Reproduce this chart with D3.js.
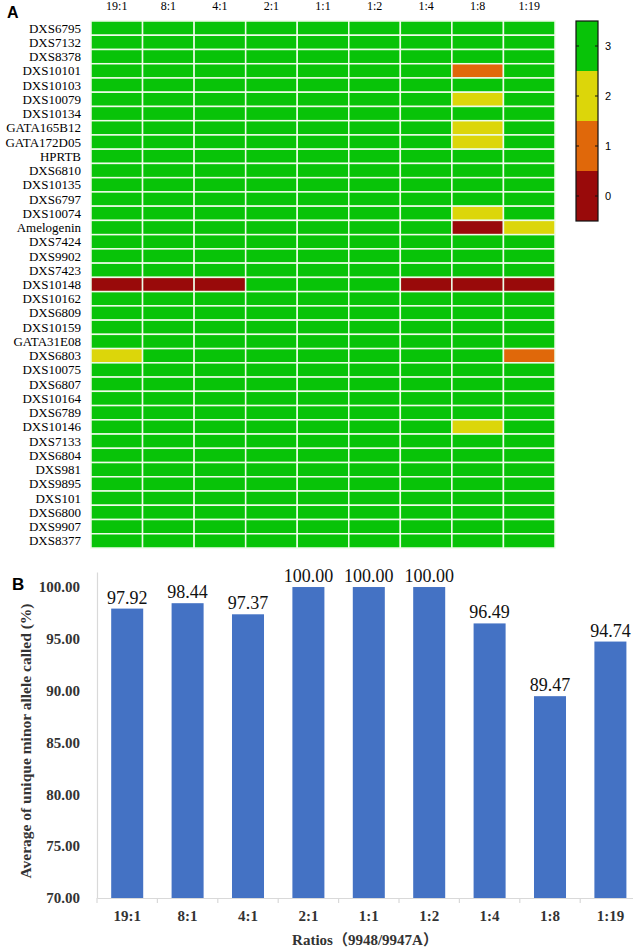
<!DOCTYPE html>
<html>
<head>
<meta charset="utf-8">
<script src="https://cdn.jsdelivr.net/npm/d3@7"></script>
<style>
  html, body { margin: 0; padding: 0; background: #fff; }
  svg { display: block; }
</style>
</head>
<body>
<div id="chart"></div>
<script>
// Panel A: allele call heatmap, panel B: average minor allele called per ratio
const ratios = ["19:1", "8:1", "4:1", "2:1", "1:1", "1:2", "1:4", "1:8", "1:19"]

const loci = [
  "DXS6795", "DXS7132", "DXS8378", "DXS10101", "DXS10103", "DXS10079", "DXS10134",
  "GATA165B12", "GATA172D05", "HPRTB", "DXS6810", "DXS10135", "DXS6797", "DXS10074",
  "Amelogenin", "DXS7424", "DXS9902", "DXS7423", "DXS10148", "DXS10162", "DXS6809",
  "DXS10159", "GATA31E08", "DXS6803", "DXS10075", "DXS6807", "DXS10164", "DXS6789",
  "DXS10146", "DXS7133", "DXS6804", "DXS981", "DXS9895", "DXS101", "DXS6800",
  "DXS9907", "DXS8377"
]

// one row per locus, one value per ratio (0..3)
const calls = [
  [3, 3, 3, 3, 3, 3, 3, 3, 3],
  [3, 3, 3, 3, 3, 3, 3, 3, 3],
  [3, 3, 3, 3, 3, 3, 3, 3, 3],
  [3, 3, 3, 3, 3, 3, 3, 1, 3],
  [3, 3, 3, 3, 3, 3, 3, 3, 3],
  [3, 3, 3, 3, 3, 3, 3, 2, 3],
  [3, 3, 3, 3, 3, 3, 3, 3, 3],
  [3, 3, 3, 3, 3, 3, 3, 2, 3],
  [3, 3, 3, 3, 3, 3, 3, 2, 3],
  [3, 3, 3, 3, 3, 3, 3, 3, 3],
  [3, 3, 3, 3, 3, 3, 3, 3, 3],
  [3, 3, 3, 3, 3, 3, 3, 3, 3],
  [3, 3, 3, 3, 3, 3, 3, 3, 3],
  [3, 3, 3, 3, 3, 3, 3, 2, 3],
  [3, 3, 3, 3, 3, 3, 3, 0, 2],
  [3, 3, 3, 3, 3, 3, 3, 3, 3],
  [3, 3, 3, 3, 3, 3, 3, 3, 3],
  [3, 3, 3, 3, 3, 3, 3, 3, 3],
  [0, 0, 0, 3, 3, 3, 0, 0, 0],
  [3, 3, 3, 3, 3, 3, 3, 3, 3],
  [3, 3, 3, 3, 3, 3, 3, 3, 3],
  [3, 3, 3, 3, 3, 3, 3, 3, 3],
  [3, 3, 3, 3, 3, 3, 3, 3, 3],
  [2, 3, 3, 3, 3, 3, 3, 3, 1],
  [3, 3, 3, 3, 3, 3, 3, 3, 3],
  [3, 3, 3, 3, 3, 3, 3, 3, 3],
  [3, 3, 3, 3, 3, 3, 3, 3, 3],
  [3, 3, 3, 3, 3, 3, 3, 3, 3],
  [3, 3, 3, 3, 3, 3, 3, 2, 3],
  [3, 3, 3, 3, 3, 3, 3, 3, 3],
  [3, 3, 3, 3, 3, 3, 3, 3, 3],
  [3, 3, 3, 3, 3, 3, 3, 3, 3],
  [3, 3, 3, 3, 3, 3, 3, 3, 3],
  [3, 3, 3, 3, 3, 3, 3, 3, 3],
  [3, 3, 3, 3, 3, 3, 3, 3, 3],
  [3, 3, 3, 3, 3, 3, 3, 3, 3],
  [3, 3, 3, 3, 3, 3, 3, 3, 3]
]

const legendLevels = [3, 2, 1, 0]
const levelColors = ["#990a0a", "#e0680a", "#dcd60a", "#08c308"]

const minorCalled = [97.92, 98.44, 97.37, 100.00, 100.00, 100.00, 96.49, 89.47, 94.74]
const yTicks = [70, 75, 80, 85, 90, 95, 100]

const serif = "'Liberation Serif', 'Times New Roman', serif"
const sans = "'Liberation Sans', Arial, sans-serif"

const width = 633
const height = 951

const svg = d3.select("#chart")
  .append("svg")
  .attr("width", width)
  .attr("height", height)

// ---------- Panel A ----------
const hm = { left: 91, right: 555, top: 21, bottom: 548 }

const hx = d3.scaleBand()
  .domain(ratios)
  .range([hm.left, hm.right])

const hy = d3.scaleBand()
  .domain(loci)
  .range([hm.top, hm.bottom])

const color = d3.scaleOrdinal()
  .domain([0, 1, 2, 3])
  .range(levelColors)

const cells = []
calls.forEach((row, i) => {
  row.forEach((v, j) => cells.push({ locus: loci[i], ratio: ratios[j], value: v }))
})

svg.append("g")
  .selectAll("rect")
  .data(cells)
  .enter()
  .append("rect")
  .attr("x", d => hx(d.ratio))
  .attr("y", d => hy(d.locus))
  .attr("width", hx.bandwidth())
  .attr("height", hy.bandwidth())
  .attr("fill", d => color(d.value))
  .attr("stroke", "#eefce8")
  .attr("stroke-width", 1.5)

// column headers
svg.append("g")
  .selectAll("text")
  .data(ratios)
  .enter()
  .append("text")
  .attr("x", d => hx(d) + hx.bandwidth() / 2)
  .attr("y", 10)
  .attr("text-anchor", "middle")
  .style("font-family", serif)
  .style("font-size", "12px")
  .text(d => d)

// row labels
svg.append("g")
  .selectAll("text")
  .data(loci)
  .enter()
  .append("text")
  .attr("x", 81)
  .attr("y", d => hy(d) + hy.bandwidth() / 2 + 4.5)
  .attr("text-anchor", "end")
  .style("font-family", serif)
  .style("font-size", "13px")
  .text(d => d)

svg.append("text")
  .attr("x", 7)
  .attr("y", 18)
  .style("font-family", sans)
  .style("font-weight", "bold")
  .style("font-size", "16px")
  .text("A")

// colour bar legend
const lg = { left: 576, width: 22, top: 21, bottom: 221 }
const ly = d3.scaleBand()
  .domain(legendLevels)
  .range([lg.top, lg.bottom])

const legend = svg.append("g")

legend.selectAll("rect")
  .data(legendLevels)
  .enter()
  .append("rect")
  .attr("x", lg.left)
  .attr("y", d => ly(d))
  .attr("width", lg.width)
  .attr("height", ly.bandwidth())
  .attr("fill", d => color(d))

legend.append("rect")
  .attr("x", lg.left)
  .attr("y", lg.top)
  .attr("width", lg.width)
  .attr("height", lg.bottom - lg.top)
  .attr("fill", "none")
  .attr("stroke", "#111")
  .attr("stroke-width", 1.2)

legendLevels.forEach(v => {
  const yc = ly(v) + ly.bandwidth() / 2
  legend.append("line")
    .attr("x1", lg.left).attr("x2", lg.left + 3)
    .attr("y1", yc).attr("y2", yc)
    .attr("stroke", "#111")
  legend.append("line")
    .attr("x1", lg.left + lg.width - 3).attr("x2", lg.left + lg.width)
    .attr("y1", yc).attr("y2", yc)
    .attr("stroke", "#111")
  legend.append("text")
    .attr("x", 605)
    .attr("y", yc + 4)
    .style("font-family", sans)
    .style("font-size", "11px")
    .text(v)
})

// ---------- Panel B ----------
const bm = { left: 97, top: 572, bottom: 898 }

const bx = d3.scaleBand()
  .domain(ratios)
  .range([bm.left, bm.left + 60.4 * ratios.length])
  .paddingInner(0.47)
  .paddingOuter(0.235)

const by = d3.scaleLinear()
  .domain([70, 101.45])
  .range([bm.bottom, bm.top])

const axisColor = "#d9d9d9"

// bars
svg.append("g")
  .selectAll("rect")
  .data(minorCalled)
  .enter()
  .append("rect")
  .attr("x", (d, i) => bx(ratios[i]))
  .attr("y", d => by(d))
  .attr("width", bx.bandwidth())
  .attr("height", d => by(70) - by(d))
  .attr("fill", "#4472c4")

// value labels
svg.append("g")
  .selectAll("text")
  .data(minorCalled)
  .enter()
  .append("text")
  .attr("x", (d, i) => bx(ratios[i]) + bx.bandwidth() / 2)
  .attr("y", d => by(d) - 5)
  .attr("text-anchor", "middle")
  .style("font-family", serif)
  .style("font-size", "18px")
  .style("fill", "#111")
  .text(d => d.toFixed(2))

// y axis
const yAxis = svg.append("g")
  .attr("transform", `translate(${bm.left},0)`)
  .call(d3.axisLeft(by).tickValues(yTicks).tickSize(0).tickPadding(17).tickFormat(d3.format(".2f")))
yAxis.select(".domain").attr("stroke", axisColor).attr("stroke-width", 1.2)
yAxis.selectAll("text")
  .style("font-family", serif)
  .style("font-weight", "bold")
  .style("font-size", "15px")
  .style("fill", "#333")

// x axis
const xAxis = svg.append("g")
  .attr("transform", `translate(0,${bm.bottom})`)
  .call(d3.axisBottom(bx).tickSize(0).tickPadding(12).tickSizeOuter(0))
xAxis.select(".domain").attr("stroke", axisColor).attr("stroke-width", 1.2)
xAxis.selectAll("text")
  .style("font-family", serif)
  .style("font-weight", "bold")
  .style("font-size", "15px")
  .style("fill", "#333")

// category boundary ticks below the x axis
const step = bx.step()
const boundaries = d3.range(ratios.length + 1).map(i => bm.left + i * step)
svg.append("g")
  .selectAll("line")
  .data(boundaries)
  .enter()
  .append("line")
  .attr("x1", d => d).attr("x2", d => d)
  .attr("y1", bm.bottom).attr("y2", bm.bottom + 5)
  .attr("stroke", axisColor)
  .attr("stroke-width", 1.2)

// axis titles
svg.append("text")
  .attr("transform", `translate(31,${(bm.top + bm.bottom) / 2 + 6}) rotate(-90)`)
  .attr("text-anchor", "middle")
  .style("font-family", serif)
  .style("font-weight", "bold")
  .style("font-size", "15.5px")
  .style("fill", "#333")
  .text("Average of unique minor allele called (%)")

svg.append("text")
  .attr("x", 365)
  .attr("y", 945)
  .attr("text-anchor", "middle")
  .style("font-family", serif + ", 'Noto Sans CJK SC'")
  .style("font-weight", "bold")
  .style("font-size", "15px")
  .style("fill", "#333")
  .text("Ratios（9948/9947A）")

svg.append("text")
  .attr("x", 12)
  .attr("y", 590)
  .style("font-family", sans)
  .style("font-weight", "bold")
  .style("font-size", "17px")
  .text("B")
</script>
</body>
</html>
